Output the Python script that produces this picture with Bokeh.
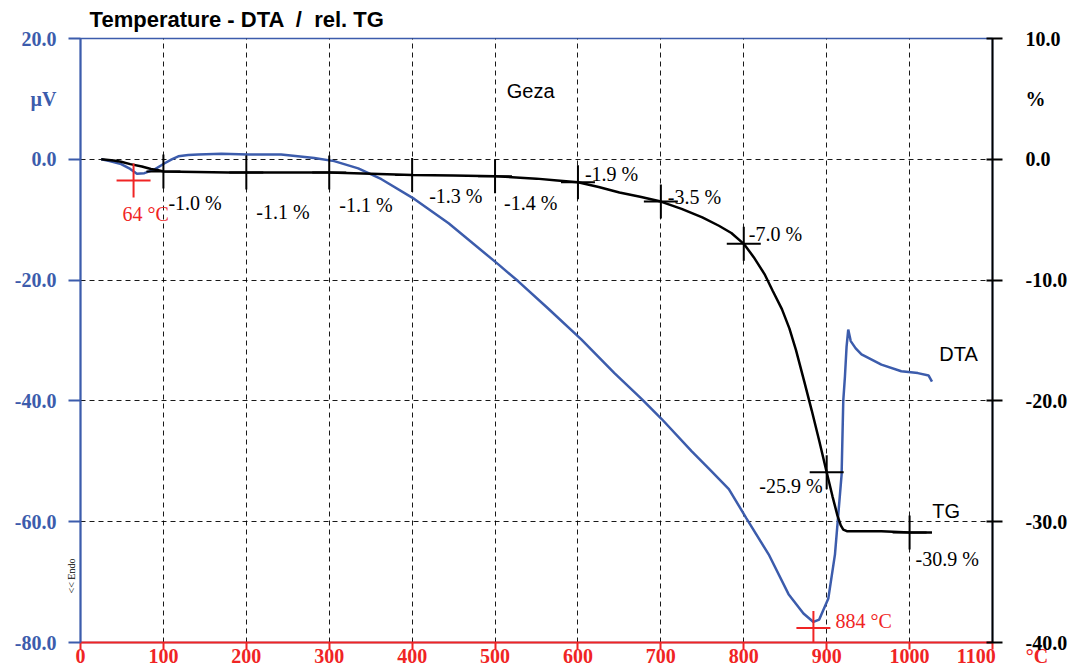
from bokeh.plotting import figure
from bokeh.models import (Range1d, LinearAxis, FixedTicker, PrintfTickFormatter,
                          ColumnDataSource, Label)
from bokeh.core.properties import value
from bokeh.embed import file_html
from bokeh.resources import INLINE
import math

# --- measured data -------------------------------------------------------
# DTA signal (µV) versus temperature (°C)
dta_temp = [25, 35, 49, 60, 68, 77, 89, 101, 110, 118, 130, 142, 170, 202, 242,
            282, 306, 335, 363, 403, 444, 504, 528, 564, 604, 644, 677, 701, 737,
            760, 782, 803, 830, 854, 872, 884, 891, 902, 910, 918, 920, 922, 924,
            926, 929, 935, 942, 966, 990, 1010, 1023, 1027]
dta_uv = [0.0, -0.3, -0.8, -1.6, -2.4, -2.3, -1.7, -0.7, 0.0, 0.5, 0.7, 0.8, 0.9,
          0.8, 0.8, 0.2, -0.3, -1.5, -3.3, -6.6, -10.6, -17.4, -20.2, -24.7,
          -29.8, -35.4, -39.7, -43.0, -48.3, -51.5, -54.6, -59.4, -65.4, -72.0,
          -75.2, -76.6, -76.2, -72.7, -65.4, -52.2, -40.0, -36.0, -31.0, -28.2,
          -30.1, -31.3, -32.3, -34.0, -35.1, -35.4, -35.8, -36.8]

# relative TG mass change (%) versus temperature (°C)
tg_temp = [25, 40, 49, 60, 74, 85, 94, 100, 140, 178, 200, 258, 300, 350, 400,
           450, 500, 550, 575, 600, 625, 650, 675, 700, 725, 750, 770, 785, 800,
           812, 825, 835, 846, 855, 863, 873, 882, 891, 900, 907, 913, 917, 920,
           925, 966, 1000, 1027]
tg_pct = [0.0, -0.1, -0.2, -0.4, -0.6, -0.8, -0.9, -1.0, -1.05, -1.1, -1.1, -1.1,
          -1.1, -1.2, -1.3, -1.35, -1.4, -1.6, -1.75, -1.9, -2.3, -2.75, -3.1,
          -3.5, -4.1, -4.8, -5.5, -6.1, -7.0, -8.1, -9.5, -10.9, -12.4, -14.0,
          -15.8, -18.4, -20.8, -23.3, -25.9, -27.9, -29.5, -30.3, -30.65, -30.8,
          -30.8, -30.9, -30.9]

# TG step readings
step_temp = [100, 200, 300, 400, 500, 600, 700, 800, 900, 1000]
step_pct = [-1.0, -1.1, -1.1, -1.3, -1.4, -1.9, -3.5, -7.0, -25.9, -30.9]

# DTA peak temperatures
peak_temp = [64, 884]
peak_uv = [-3.5, -77.6]

# axis ticks
temp_ticks = [0, 100, 200, 300, 400, 500, 600, 700, 800, 900, 1000, 1100]
uv_ticks = [-80, -60, -40, -20, 0, 20]
pct_ticks = [-40, -30, -20, -10, 0, 10]

# unit names, written in the tick label column of each axis
uv_unit_at = 10
pct_unit_at = 5

# --- styling ---------------------------------------------------------------
BLUE = "#3c5cac"
RED = "#f02424"
BLACK = "#000000"
SERIF = "Liberation Serif"
SANS = "Liberation Sans"
NB = "\u00a0"

p = figure(width=1072, height=670, output_backend="svg", toolbar_location=None,
           x_range=Range1d(0, 1100), y_range=Range1d(-80, 20),
           min_border_left=79, min_border_right=80, min_border_top=38,
           min_border_bottom=28)
p.background_fill_color = "white"
p.border_fill_color = "white"
p.outline_line_color = BLUE
p.outline_line_width = 1.5

p.extra_y_ranges = {"tg": Range1d(-40, 10)}


def style_labels(axis, color):
    axis.major_label_text_color = color
    axis.major_label_text_font = SERIF
    axis.major_label_text_font_style = "bold"
    axis.major_label_text_font_size = "20px"


# bottom temperature axis (unit after the last value)
xa = p.xaxis[0]
xa.ticker = FixedTicker(ticks=temp_ticks)
xa.major_label_overrides = {temp_ticks[-1]: NB * 4 + str(temp_ticks[-1]) + NB * 6 + "°C"}
xa.axis_line_color = RED
xa.axis_line_width = 2
xa.major_tick_line_color = RED
xa.major_tick_line_width = 2
xa.major_tick_out = 7
xa.major_tick_in = 0
xa.minor_tick_line_color = None
xa.major_label_standoff = -5
style_labels(xa, RED)
xa.major_label_text_line_height = 1.0

# left DTA axis: tick marks drawn as minor ticks, labels from major ticks
ya = p.yaxis[0]
ya.ticker = FixedTicker(ticks=sorted(uv_ticks + [uv_unit_at]), minor_ticks=uv_ticks)
ya.formatter = PrintfTickFormatter(format="%.1f")
ya.major_label_overrides = {uv_unit_at: "µV"}
ya.axis_line_color = BLUE
ya.axis_line_width = 2
ya.major_tick_line_color = None
ya.major_tick_out = 12
ya.major_tick_in = 0
ya.minor_tick_line_color = BLUE
ya.minor_tick_line_width = 2
ya.minor_tick_out = 12
ya.minor_tick_in = 0
ya.major_label_standoff = 12
style_labels(ya, BLUE)

# right TG axis
ra = LinearAxis(y_range_name="tg",
                ticker=FixedTicker(ticks=sorted(pct_ticks + [pct_unit_at]),
                                   minor_ticks=pct_ticks),
                formatter=PrintfTickFormatter(format="%.1f"))
ra.major_label_overrides = {pct_unit_at: "%"}
ra.axis_line_color = BLACK
ra.axis_line_width = 2
ra.major_tick_line_color = None
ra.major_tick_out = 10
ra.major_tick_in = 0
ra.minor_tick_line_color = BLACK
ra.minor_tick_line_width = 2
ra.minor_tick_out = 10
ra.minor_tick_in = 6
ra.major_label_standoff = 23
style_labels(ra, BLACK)
p.add_layout(ra, "right")

# dashed grid
p.xgrid.ticker = FixedTicker(ticks=temp_ticks[1:-1])
p.ygrid.ticker = FixedTicker(ticks=uv_ticks[1:-1])
for g in (p.xgrid[0], p.ygrid[0]):
    g.grid_line_color = BLACK
    g.grid_line_dash = "5 4"
    g.grid_line_width = 1
    g.grid_line_alpha = 0.9

# --- curves --------------------------------------------------------------
p.line(dta_temp, dta_uv, line_color=BLUE, line_width=2.5)
p.line(tg_temp, tg_pct, y_range_name="tg", line_color=BLACK, line_width=2.5)

# TG step markers and readings
p.scatter(step_temp, step_pct, y_range_name="tg", marker="cross", size=34,
          line_color=BLACK, line_width=2)
step_dx = [5, 10, 10, 17, 9, 7, 7, 5, -4, 6]
step_dy = [32, 39, 32, 21, 27, -8, -5, -10, 14, 26]
step_align = ["left"] * 8 + ["right", "left"]
step_src = ColumnDataSource(dict(
    x=step_temp, y=step_pct,
    txt=[f"{v:.1f} %" for v in step_pct],
    dx=step_dx, dy=step_dy, al=step_align))
p.text(x="x", y="y", text="txt", x_offset="dx", y_offset="dy",
       text_align="al", text_baseline="middle", source=step_src,
       y_range_name="tg", text_font=value(SERIF), text_font_size="20px",
       text_color=BLACK)

# DTA peak markers
p.scatter(peak_temp, peak_uv, marker="cross", size=34, line_color=RED,
          line_width=2)
peak_src = ColumnDataSource(dict(
    x=peak_temp, y=peak_uv, txt=[f"{t} °C" for t in peak_temp],
    dx=[-11, 22], dy=[34, -7]))
p.text(x="x", y="y", text="txt", x_offset="dx", y_offset="dy",
       text_align="left", text_baseline="middle", source=peak_src,
       text_font=value(SERIF), text_font_size="20px", text_color=RED)

# curve names and sample name
p.text(x=[543, 1059, 1044], y=[11.3, -32.3, -58.3], text=["Geza", "DTA", "TG"],
       text_align="center", text_baseline="middle", text_font=value(SANS),
       text_font_size="20px", text_color=BLACK)

# --- texts in the margins (side panels, so they are not clipped) -------------
p.add_layout(Label(x=11, y=23.2, text=f"Temperature - DTA {NB}/{NB} rel. TG",
                   text_color=BLACK, text_font=SANS, text_font_size="22px",
                   text_font_style="bold", text_align="left",
                   text_baseline="middle"), "above")
p.add_layout(Label(x=-11, y=-69.0, text="<< Endo", text_color=BLACK,
                   text_font=SERIF, text_font_size="10px", text_align="center",
                   text_baseline="middle", angle=math.pi / 2), "left")

open("out.html", "w").write(file_html(p, INLINE))
